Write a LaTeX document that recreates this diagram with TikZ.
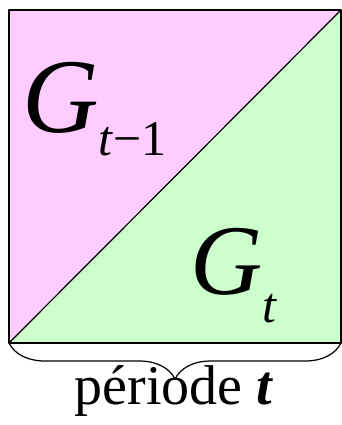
\documentclass[tikz,border=0pt]{standalone}
\usepackage{fontspec}
\setmainfont{Liberation Serif}
\usetikzlibrary{decorations.pathreplacing}
\definecolor{prevpink}{HTML}{FFCCFF}
\definecolor{currgreen}{HTML}{CCFFCC}
\newcommand{\sub}[2]{\raisebox{-#1pt}{\fontsize{50}{50}\selectfont #2}}
\begin{document}
\begin{tikzpicture}[x=1pt, y=1pt, line join=round,
    bigG/.style={anchor=base west, inner sep=0pt}]
    \useasboundingbox (0,0) rectangle (342,425);
    \coordinate (sw) at (9,82);
    \coordinate (se) at (341,82);
    \coordinate (ne) at (341,415);
    \coordinate (nw) at (9,415);
    \fill[prevpink] (sw) -- (nw) -- (ne) -- cycle;
    \fill[currgreen] (sw) -- (se) -- (ne) -- cycle;
    \draw[line width=1.5] (sw) rectangle (ne);
    \draw[line width=1.2] (sw) -- (ne);
    \node[bigG, font=\fontsize{106}{106}\selectfont] (gprev) at (22,292) {\textit{G}\sub{23}{\textit{t}−1}};
    \node[bigG, font=\fontsize{100}{100}\selectfont] (gcurr) at (190,130) {\textit{G}\sub{28}{\textit{t}}};
    % accolade sous le carre
    \draw[line width=1.2, decorate, decoration={brace, mirror, amplitude=36}] (sw) -- (se);
    \node[anchor=base, inner sep=0pt, font=\fontsize{56}{56}\selectfont] (periode) at (174,20) {période \textbf{\textit{t}}};
\end{tikzpicture}
\end{document}
